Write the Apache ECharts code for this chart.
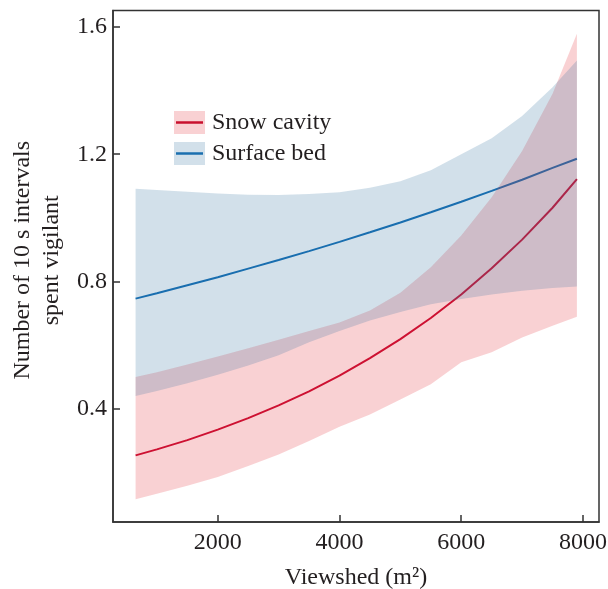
<!DOCTYPE html>
<html>
<head>
<meta charset="utf-8">
<script src="https://cdn.jsdelivr.net/npm/echarts@6/dist/echarts.min.js"></script>
<style>
  html, body { margin: 0; padding: 0; background: #fff; }
  #chart { width: 608px; height: 589px; }
</style>
</head>
<body>
<div id="chart"></div>
<script>
// viewshed vs vigilance, fitted curve + 95% band per bed type

const viewshed = [650, 1000, 1500, 2000, 2500, 3000, 3500, 4000, 4500, 5000, 5500, 6000, 6500, 7000, 7500, 7900];

const snowFit  = [0.255, 0.274, 0.303, 0.336, 0.372, 0.412, 0.456, 0.505, 0.560, 0.620, 0.686, 0.760, 0.842, 0.932, 1.032, 1.122];
const snowLow  = [0.117, 0.135, 0.160, 0.187, 0.222, 0.258, 0.300, 0.345, 0.383, 0.430, 0.478, 0.547, 0.579, 0.625, 0.662, 0.690];
const snowHigh = [0.501, 0.516, 0.540, 0.565, 0.591, 0.618, 0.645, 0.672, 0.710, 0.765, 0.845, 0.945, 1.065, 1.210, 1.390, 1.578];

const bedFit  = [0.747, 0.764, 0.789, 0.814, 0.841, 0.868, 0.896, 0.925, 0.955, 0.986, 1.018, 1.051, 1.085, 1.120, 1.157, 1.186];
const bedLow  = [0.441, 0.457, 0.481, 0.508, 0.537, 0.569, 0.610, 0.645, 0.678, 0.705, 0.729, 0.746, 0.760, 0.772, 0.780, 0.785];
const bedHigh = [1.092, 1.088, 1.082, 1.077, 1.073, 1.072, 1.075, 1.081, 1.095, 1.115, 1.150, 1.200, 1.250, 1.320, 1.410, 1.494];

const xTicks = [2000, 4000, 6000, 8000];
const yTicks = [0.4, 0.8, 1.2, 1.6];

const FONT = 'Liberation Serif';
const INK = '#231f20';

const pairs = arr => viewshed.map((x, i) => [x, arr[i]]);

// confidence band: one polygon, upper edge then lower edge back
function band(low, high, color) {
  return {
    type: 'custom', silent: true, z: 3,
    data: viewshed.map((x, i) => [x, low[i], high[i]]),
    encode: { x: 0, y: [1, 2] },
    renderItem(params, api) {
      if (params.dataIndex !== 0) return;
      const pts = [];
      viewshed.forEach((x, i) => pts.push(api.coord([x, high[i]])));
      for (let i = viewshed.length - 1; i >= 0; i--) pts.push(api.coord([viewshed[i], low[i]]));
      return { type: 'polygon', shape: { points: pts }, style: { fill: color } };
    },
  };
}

function fitLine(data, color) {
  return { type: 'line', data: pairs(data), symbol: 'none', silent: true, z: 2,
    lineStyle: { color, width: 2 } };
}

const chart = echarts.init(document.getElementById('chart'));
chart.setOption({
  animation: false,
  grid: { left: 113, right: 9, top: 10.5, bottom: 67, outerBoundsMode: 'none',
    show: true, borderColor: '#333', borderWidth: 1.5 },
  xAxis: {
    type: 'value', min: 279, max: 8263,
    name: 'Viewshed (m²)', nameLocation: 'middle', nameGap: 44,
    nameTextStyle: { fontFamily: FONT, fontSize: 24, color: INK },
    axisLine: { lineStyle: { color: '#333', width: 1.5 } },
    axisTick: { inside: true, length: 7, customValues: xTicks, lineStyle: { color: '#333', width: 1.5 } },
    axisLabel: { customValues: xTicks, margin: 9, fontFamily: FONT, fontSize: 24, color: INK,
      formatter: v => String(v) },
    splitLine: { show: false },
  },
  yAxis: {
    type: 'value', min: 0.046, max: 1.651,
    name: 'Number of 10 s intervals\nspent vigilant', nameLocation: 'middle', nameGap: 47,
    nameTextStyle: { fontFamily: FONT, fontSize: 24, color: INK, lineHeight: 29, padding: [0, 0, 0, 12] },
    axisLine: { lineStyle: { color: '#333', width: 1.5 } },
    axisTick: { inside: true, length: 7, customValues: yTicks, lineStyle: { color: '#333', width: 1.5 } },
    axisLabel: { customValues: yTicks, margin: 6, fontFamily: FONT, fontSize: 24, color: INK,
      formatter: v => v.toFixed(1) },
    splitLine: { show: false },
  },
  series: [
    fitLine(snowFit, '#c70a31'),
    fitLine(bedFit, '#126db4'),
    band(snowLow, snowHigh, 'rgba(228,46,55,0.22)'),
    band(bedLow, bedHigh, 'rgba(50,114,160,0.22)'),
  ],
  // legend drawn by hand: filled box with the line across it
  graphic: [
    { type: 'rect', z: 100, shape: { x: 174, y: 111, width: 31, height: 23 }, style: { fill: '#f9d1d3' } },
    { type: 'line', z: 100, shape: { x1: 176, y1: 122.5, x2: 203, y2: 122.5 }, style: { stroke: '#c8102e', lineWidth: 2.5 } },
    { type: 'text', z: 100, x: 212, y: 123, style: { text: 'Snow cavity', font: '24px "Liberation Serif"', fill: INK, verticalAlign: 'middle' } },
    { type: 'rect', z: 100, shape: { x: 174, y: 142, width: 31, height: 23 }, style: { fill: '#d2e0ea' } },
    { type: 'line', z: 100, shape: { x1: 176, y1: 153.5, x2: 203, y2: 153.5 }, style: { stroke: '#1a6faf', lineWidth: 2.5 } },
    { type: 'text', z: 100, x: 212, y: 154, style: { text: 'Surface bed', font: '24px "Liberation Serif"', fill: INK, verticalAlign: 'middle' } },
  ],
});
</script>
</body>
</html>
